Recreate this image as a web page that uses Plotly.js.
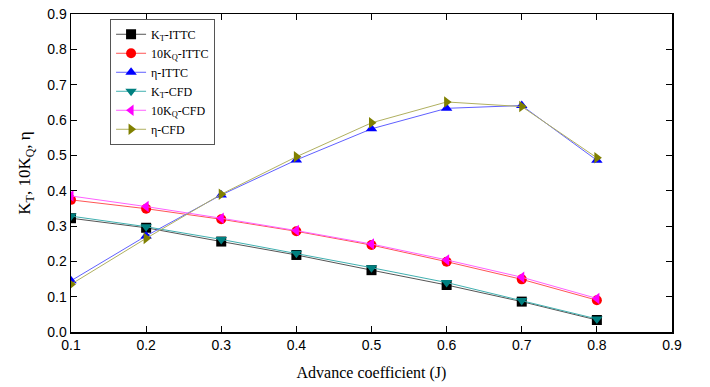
<!DOCTYPE html>
<html>
<head>
<meta charset="utf-8">
<script src="https://cdn.plot.ly/plotly-3.0.1.min.js"></script>
<style>html,body{margin:0;padding:0;background:#fff;}#chart{width:710px;height:387px;}</style>
</head>
<body>
<div id="chart"></div>
<script>
const J = [0.1, 0.2, 0.3, 0.4, 0.5, 0.6, 0.7, 0.8];
const KT_ITTC = [0.322, 0.295, 0.256, 0.218, 0.175, 0.133, 0.086, 0.034];
const KQ10_ITTC = [0.374, 0.349, 0.319, 0.285, 0.246, 0.199, 0.149, 0.090];
const ETA_ITTC = [0.145, 0.272, 0.388, 0.487, 0.575, 0.633, 0.641, 0.486];
const KT_CFD = [0.328, 0.298, 0.262, 0.223, 0.182, 0.140, 0.089, 0.037];
const KQ10_CFD = [0.385, 0.355, 0.322, 0.287, 0.249, 0.204, 0.155, 0.095];
const ETA_CFD = [0.135, 0.265, 0.390, 0.496, 0.592, 0.651, 0.638, 0.493];
const names = ['K<sub>T</sub>-ITTC','10K<sub>Q</sub>-ITTC','η-ITTC','K<sub>T</sub>-CFD','10K<sub>Q</sub>-CFD','η-CFD'];
const xTicks = [0.1,0.2,0.3,0.4,0.5,0.6,0.7,0.8,0.9];
const yTicks = [0.0,0.1,0.2,0.3,0.4,0.5,0.6,0.7,0.8,0.9];

const series = [KT_ITTC, KQ10_ITTC, ETA_ITTC, KT_CFD, KQ10_CFD, ETA_CFD];
const markerColors = ['#000000','#ff0000','#0000ff','#008080','#ff00ff','#808000'];
const lineColors = ['#555555','#ff5555','#6060ff','#40b0b0','#ff60ff','#b0b060'];
const symbols = ['square','circle','triangle-up','triangle-down','triangle-left','triangle-right'];

const traces = series.map((s,i)=>({
  x: J, y: s, name: names[i], type:'scatter', mode:'lines+markers',
  line:{color: lineColors[i], width:1},
  marker:{color: markerColors[i], symbol: symbols[i], size: 10, line:{width:0}}
}));

const axisCommon = {
  showline:true, linecolor:'#000', linewidth:1.5, mirror:'ticks',
  ticks:'inside', ticklen:6, tickcolor:'#000', tickwidth:1,
  showgrid:false, zeroline:false,
  tickfont:{family:'Liberation Sans, Arial, sans-serif', size:14, color:'#000'}
};

const layout = {
  width:710, height:387,
  margin:{l:71, r:38, t:14, b:55},
  paper_bgcolor:'#fff', plot_bgcolor:'#fff',
  showlegend:true,
  legend:{x:0.065, y:0.985, xanchor:'left', yanchor:'top',
    bordercolor:'#555', borderwidth:1, bgcolor:'#fff',
    font:{family:'Liberation Serif, Times New Roman, serif', size:12, color:'#000'},
    tracegroupgap:0},
  xaxis: Object.assign({}, axisCommon, {
    range:[0.1,0.9], tickvals:xTicks, ticktext:xTicks.map(v=>v.toFixed(1)),
    title:{text:'Advance coefficient (J)', font:{family:'Liberation Serif, Times New Roman, serif', size:16, color:'#000'}, standoff:14}
  }),
  yaxis: Object.assign({}, axisCommon, {
    range:[0,0.9], tickvals:yTicks, ticktext:yTicks.map(v=>v.toFixed(1)),
    title:{text:'K<sub>T</sub>, 10K<sub>Q</sub>, η', font:{family:'Liberation Serif, Times New Roman, serif', size:17, color:'#000'}, standoff:12}
  })
};

Plotly.newPlot('chart', traces, layout, {displayModeBar:false, staticPlot:true});
</script>
</body>
</html>
